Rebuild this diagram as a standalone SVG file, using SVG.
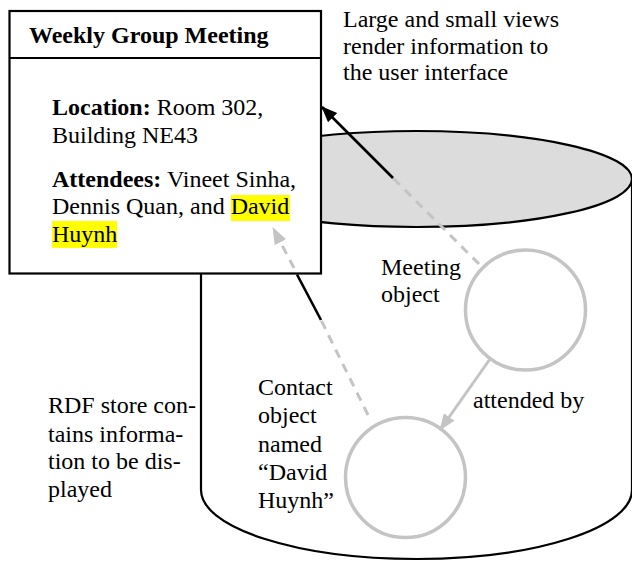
<svg xmlns="http://www.w3.org/2000/svg" width="632" height="561" viewBox="0 0 632 561">
<style>
text{font-family:"Liberation Serif","Times New Roman",serif;font-size:24px;fill:#000}
.b{font-weight:bold}
.outline{fill:#fff;stroke:#000;stroke-width:2.2}
.obj{fill:none;stroke:#c4c4c4;stroke-width:3.5}
.gray{stroke:#c4c4c4;stroke-width:3;fill:none}
.dash{stroke-dasharray:9 7}
.blk{stroke:#000;stroke-width:2.6;fill:none}
.hl{fill:#ffff00}
</style>
<defs>
<marker id="ahBlack" markerUnits="userSpaceOnUse" markerWidth="18" markerHeight="14" refX="15" refY="6.5" orient="auto">
<path d="M0,0 L16,6.5 L0,13 z" fill="#000"/>
</marker>
<marker id="ahGray" markerUnits="userSpaceOnUse" markerWidth="20" markerHeight="14" refX="16" refY="6.5" orient="auto">
<path d="M0,0 L17,6.5 L0,13 z" fill="#c4c4c4"/>
</marker>
</defs>

<g id="rdf-store">
<path class="outline" d="M201,179 L201,490 A215.5,69 0 0 0 632,490 L632,179 z"/>
<ellipse cx="416.5" cy="179" rx="215.5" ry="48" fill="#dcdcdc" stroke="#000" stroke-width="2.2"/>
<text x="48" y="413">RDF store con-</text>
<text x="48" y="442">tains informa-</text>
<text x="48" y="469">tion to be dis-</text>
<text x="48" y="497">played</text>
</g>

<g id="meeting-object">
<circle class="obj" cx="525.5" cy="310" r="60"/>
<text x="381" y="275">Meeting</text>
<text x="381" y="302">object</text>
</g>

<g id="contact-object">
<circle class="obj" cx="405.5" cy="477.5" r="60"/>
<text x="258" y="395">Contact</text>
<text x="258" y="423">object</text>
<text x="258" y="452">named</text>
<text x="258" y="480">“David</text>
<text x="258" y="508">Huynh”</text>
</g>

<g id="meeting-view">
<rect class="outline" x="9.5" y="11" width="311.5" height="262.5" stroke-width="2.8"/>
<line x1="9.5" y1="58" x2="321" y2="58" stroke="#000" stroke-width="2"/>
<text class="b" x="29" y="43">Weekly Group Meeting</text>
<text x="52" y="115"><tspan class="b">Location:</tspan> Room 302,</text>
<text x="52" y="143">Building NE43</text>
<rect class="hl" x="231" y="195" width="59" height="26"/>
<rect class="hl" x="52" y="221" width="65" height="27"/>
<text x="52" y="187"><tspan class="b">Attendees:</tspan> Vineet Sinha,</text>
<text x="52" y="214">Dennis Quan, and David</text>
<text x="52" y="242">Huynh</text>
</g>

<g id="views-label">
<text x="343" y="27">Large and small views</text>
<text x="343" y="54">render information to</text>
<text x="343" y="80">the user interface</text>
</g>

<g id="connectors">
<line class="gray dash" x1="479" y1="264" x2="393" y2="178"/>
<line class="blk" x1="393" y1="178" x2="322" y2="107" marker-end="url(#ahBlack)"/>
<line class="gray dash" x1="368" y1="415" x2="321" y2="320"/>
<line class="blk" x1="321" y1="320" x2="297" y2="274.5"/>
<line class="gray dash" x1="294" y1="268" x2="273" y2="228" marker-end="url(#ahGray)"/>
<line class="gray" x1="490" y1="359" x2="440" y2="430" marker-end="url(#ahGray)"/>
<text x="473" y="408">attended by</text>
</g>
</svg>
